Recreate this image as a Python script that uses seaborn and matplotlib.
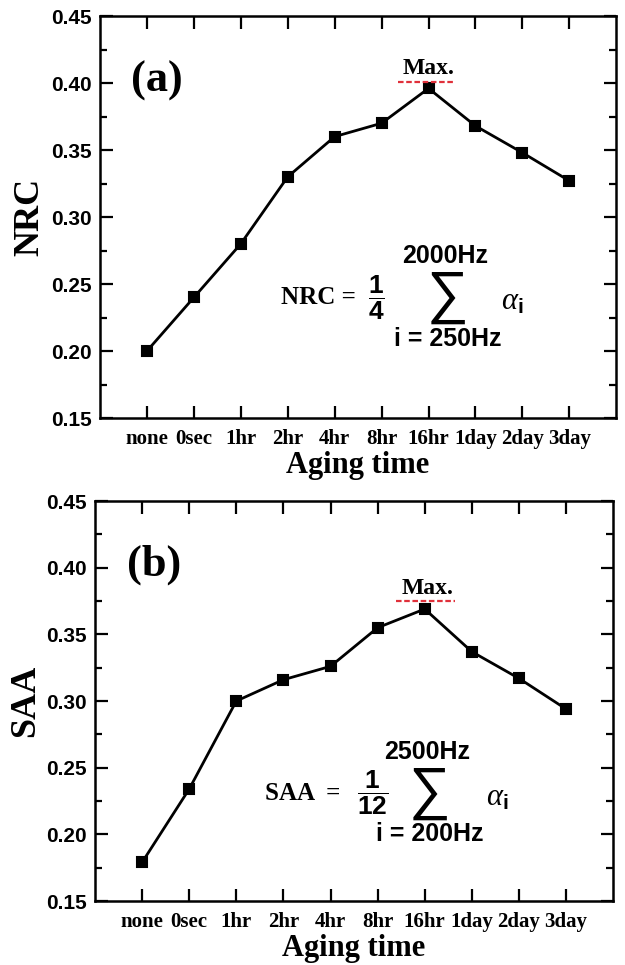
import matplotlib
matplotlib.use("Agg")
import matplotlib.pyplot as plt
import seaborn as sns
import pandas as pd
from matplotlib.ticker import MultipleLocator

# ---- data ----
aging = ["none", "0sec", "1hr", "2hr", "4hr", "8hr", "16hr", "1day", "2day", "3day"]
nrc = [0.200, 0.240, 0.280, 0.330, 0.360, 0.370, 0.396, 0.368, 0.348, 0.327]
saa = [0.179, 0.234, 0.300, 0.316, 0.326, 0.355, 0.369, 0.337, 0.317, 0.294]
y_ticks = [0.15, 0.20, 0.25, 0.30, 0.35, 0.40, 0.45]

sns.set_style("ticks")
plt.rcParams["text.color"] = "black"
plt.rcParams["axes.labelcolor"] = "black"
plt.rcParams["xtick.color"] = "black"
plt.rcParams["ytick.color"] = "black"
plt.rcParams["mathtext.fontset"] = "custom"
plt.rcParams["mathtext.bf"] = "Liberation Sans:bold"
plt.rcParams["mathtext.rm"] = "Liberation Serif:bold"
plt.rcParams["mathtext.it"] = "Liberation Serif:italic"

SERIF = "Liberation Serif"
SANS = "Liberation Sans"


def draw_panel(ax, values, ylabel, tag):
    df = pd.DataFrame({"Aging time": aging, ylabel: values})
    sns.pointplot(data=df, x="Aging time", y=ylabel, order=aging, color="black",
                  markers="s", markersize=7.5, linewidth=2, errorbar=None, ax=ax)
    ax.set_xlim(-1, 10)
    ax.set_ylim(0.15, 0.45)
    ax.set_yticks(y_ticks)
    ax.set_yticklabels([f"{t:.2f}" for t in y_ticks])
    ax.yaxis.set_minor_locator(MultipleLocator(0.025))
    ax.tick_params(which="both", direction="in", top=True, right=True, width=1.6,
                   color="black", labelcolor="black")
    ax.tick_params(which="major", length=9)
    ax.tick_params(which="minor", length=5)
    ax.tick_params(axis="x", pad=8)
    ax.tick_params(axis="y", pad=6)
    for lab in ax.get_xticklabels():
        lab.set_fontfamily(SERIF)
        lab.set_fontweight("bold")
        lab.set_fontsize(15)
    for lab in ax.get_yticklabels():
        lab.set_fontfamily(SANS)
        lab.set_fontweight("bold")
        lab.set_fontsize(15)
    for sp in ax.spines.values():
        sp.set_linewidth(1.8)
        sp.set_color("black")
    ax.set_xlabel("Aging time", fontfamily=SERIF, fontweight="bold", fontsize=22, labelpad=1)
    ax.set_ylabel(ylabel, fontfamily=SERIF, fontweight="bold", fontsize=26, labelpad=3)
    ax.text(-0.33, 0.402, tag, fontfamily=SERIF, fontweight="bold", fontsize=32,
            ha="left", va="center")


fig = plt.figure(figsize=(6.25, 9.65), dpi=100)
ax1 = fig.add_axes([0.160, 0.5668, 0.826, 0.4166])
ax2 = fig.add_axes([0.152, 0.0663, 0.829, 0.4145])

draw_panel(ax1, nrc, "NRC", "(a)")
draw_panel(ax2, saa, "SAA", "(b)")

# ---- "Max." markers ----
red = "#e0303a"
ax1.text(6.0, 0.4065, "Max.", fontfamily=SERIF, fontweight="bold", fontsize=17,
         ha="center", va="baseline")
ax1.plot([5.35, 6.53], [0.401, 0.401], color=red, lw=1.6, ls=(0, (2.5, 1.2)))
ax2.text(6.07, 0.3805, "Max.", fontfamily=SERIF, fontweight="bold", fontsize=17,
         ha="center", va="baseline")
ax2.plot([5.4, 6.65], [0.375, 0.375], color=red, lw=1.6, ls=(0, (2.5, 1.2)))

# ---- formulas ----
def formula(ax, name, x_name, x_frac, frac, x_sum, top, bottom, x_alpha, yc):
    ax.text(x_name, yc, name + " =", fontfamily=SERIF, fontweight="bold", fontsize=18,
            ha="left", va="center")
    ax.text(x_frac, yc, frac, fontsize=19, ha="center", va="center")
    ax.text(x_sum, yc, "\u2211", fontfamily="Liberation Sans", fontsize=42,
            ha="center", va="center")
    ax.text(x_sum - 0.05, yc + 0.031, top, fontfamily=SANS, fontweight="bold", fontsize=18,
            ha="center", va="center")
    ax.text(x_sum, yc - 0.031, bottom, fontfamily=SANS, fontweight="bold", fontsize=18,
            ha="center", va="center")
    ax.text(x_alpha, yc - 0.003, r"$\alpha_\mathbf{i}$", fontsize=22, ha="left", va="center")


formula(ax1, "NRC", 2.85, 4.88, r"$\dfrac{\mathbf{1}}{\mathbf{4}}$", 6.4, "2000Hz",
        "i = 250Hz", 7.55, 0.240)
formula(ax2, "SAA ", 2.6, 4.9, r"$\dfrac{\mathbf{1}}{\mathbf{12}}$", 6.1, "2500Hz",
        "i = 200Hz", 7.3, 0.231)

fig.savefig("out.png", dpi=100)
